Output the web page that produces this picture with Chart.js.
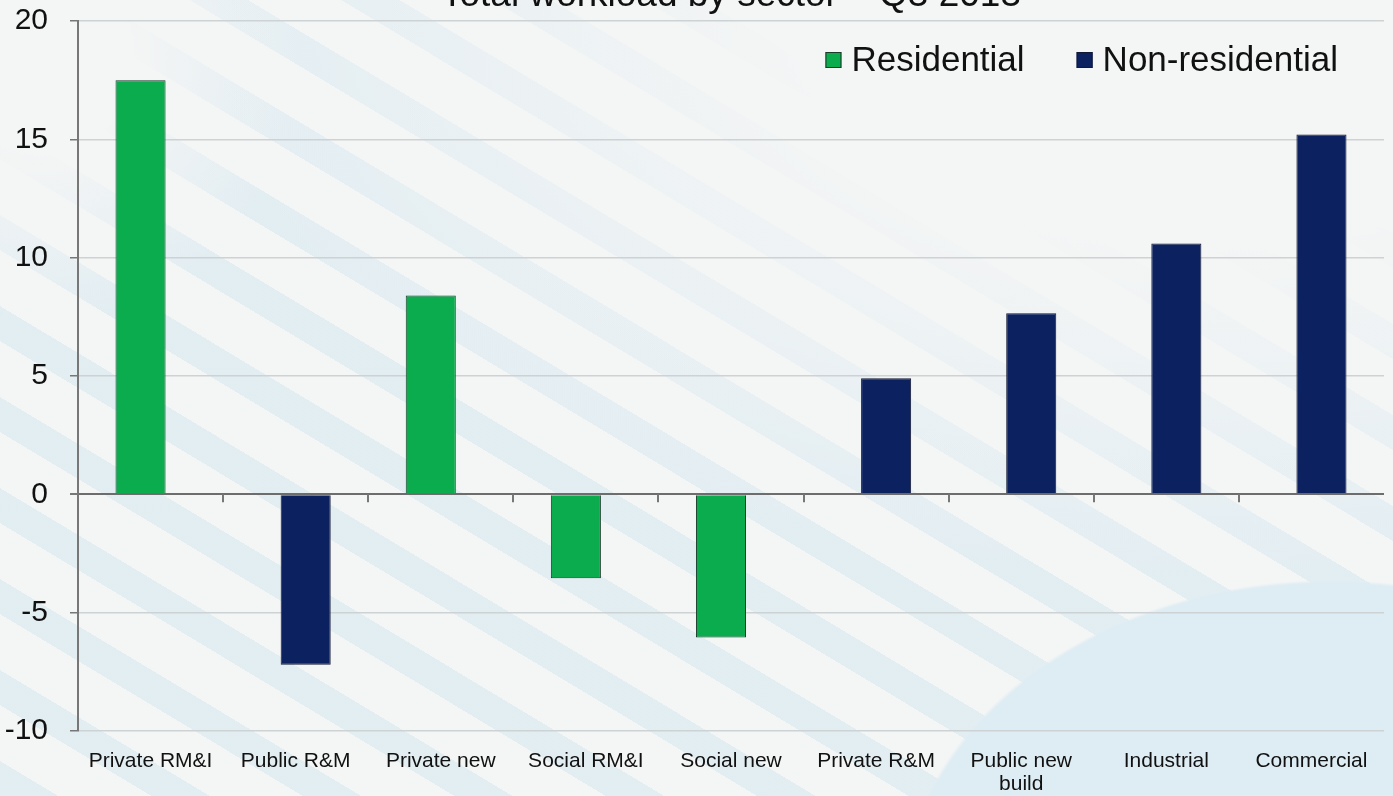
<!DOCTYPE html>
<html>
<head>
<meta charset="utf-8">
<title>Total workload by sector</title>
<script src="https://cdn.jsdelivr.net/npm/chart.js@4.4.1/dist/chart.umd.min.js"></script>
<style>
    html, body {
        margin: 0;
        padding: 0;
        width: 1393px;
        height: 796px;
        overflow: hidden;
    }
    body {
        background-color: #f4f5f5;
        background-image:
            radial-gradient(ellipse 430px 330px at 1330px 910px, #deedf3 0, #deedf3 99%, rgba(222,237,243,0) 100%),
            radial-gradient(ellipse 1000px 560px at 1200px 20px, #f4f5f5 0%, #f4f5f5 40%, rgba(244,245,245,0) 100%),
            radial-gradient(ellipse 260px 260px at 40px 60px, #f4f5f5 0%, #f4f5f5 35%, rgba(244,245,245,0) 100%),
            repeating-linear-gradient(31deg, rgba(188,222,238,0.32) 0px, rgba(188,222,238,0.32) 30px, rgba(244,245,245,0) 30px, rgba(244,245,245,0) 78px);
    }
    #wrap {
        position: absolute;
        left: 0;
        top: 0;
        width: 1393px;
        height: 796px;
    }
</style>
</head>
<body>
<div id="wrap">
    <canvas id="sectorChart" width="1393" height="796"></canvas>
</div>
<script>
// Total workload by sector, % change
const chartTitle = 'Total workload by sector \u2013 Q3 2013';
const categories = ['Private RM&I', 'Public R&M', 'Private new', 'Social RM&I', 'Social new',
    'Private R&M', ['Public new', 'build'], 'Industrial', 'Commercial'];
const residential = [17.5, null, 8.4, -3.55, -6.05, null, null, null, null];
const nonResidential = [null, -7.2, null, null, null, 4.9, 7.65, 10.6, 15.2];
const yTicks = [-10, -5, 0, 5, 10, 15, 20];

const fontFamily = '"Liberation Sans", Arial, sans-serif';

// title sits centred over the plot area, partly above the canvas edge
const titlePlugin = {
    id: 'plotTitle',
    afterDraw(chart) {
        const c = chart.ctx;
        const area = chart.chartArea;
        c.save();
        c.font = '37px ' + fontFamily;
        c.fillStyle = '#111';
        c.textAlign = 'center';
        c.textBaseline = 'alphabetic';
        c.fillText(chartTitle, (area.left + area.right) / 2, 6);
        c.restore();
    }
};

// legend drawn inside the top-right corner of the plot
const innerLegend = {
    id: 'innerLegend',
    afterDraw(chart) {
        const c = chart.ctx;
        const area = chart.chartArea;
        const box = 16, gap = 10, spacing = 52;
        c.save();
        c.font = '35px ' + fontFamily;
        c.textBaseline = 'middle';
        const items = chart.data.datasets.map(ds => ({
            text: ds.label,
            fill: ds.backgroundColor,
            stroke: ds.borderColor,
            w: box + gap + c.measureText(ds.label).width
        }));
        const total = items.reduce((s, it) => s + it.w, 0) + spacing * (items.length - 1);
        let x = area.right - 46 - total;
        const y = area.top + 39;
        items.forEach(it => {
            c.fillStyle = it.fill;
            c.fillRect(x, y - box / 2, box, box);
            c.strokeStyle = it.stroke;
            c.lineWidth = 1;
            c.strokeRect(x + 0.5, y - box / 2 + 0.5, box - 1, box - 1);
            c.fillStyle = '#111';
            c.fillText(it.text, x + box + gap, y + 1);
            x += it.w + spacing;
        });
        c.restore();
    }
};

// small tick marks hanging from the zero line between categories
const zeroTicks = {
    id: 'zeroTicks',
    afterDatasetsDraw(chart) {
        const c = chart.ctx;
        const x = chart.scales.x;
        const y0 = chart.scales.y.getPixelForValue(0);
        const step = (x.right - x.left) / categories.length;
        c.save();
        c.strokeStyle = '#777';
        c.lineWidth = 2;
        c.beginPath();
        for (let i = 1; i < categories.length; i++) {
            const px = Math.round(x.left + step * i);
            c.moveTo(px, y0);
            c.lineTo(px, y0 + 8);
        }
        c.stroke();
        c.restore();
    }
};

const ctx = document.getElementById('sectorChart').getContext('2d');
const sectorChart = new Chart(ctx, {
    type: 'bar',
    data: {
        labels: categories,
        datasets: [{
            label: 'Residential',
            data: residential,
            backgroundColor: '#0aac4e',
            borderColor: '#1a3a2a',
            borderWidth: 1
        }, {
            label: 'Non-residential',
            data: nonResidential,
            backgroundColor: '#0b2160',
            borderColor: '#121833',
            borderWidth: 1
        }]
    },
    options: {
        responsive: false,
        animation: false,
        categoryPercentage: 0.276,
        barPercentage: 2.5,
        layout: {
            padding: { top: 21, right: 9, left: 0, bottom: 0 }
        },
        plugins: {
            title: { display: false },
            tooltip: { enabled: false },
            legend: { display: false }
        },
        scales: {
            x: {
                grid: { display: false },
                border: { display: false },
                afterFit(scale) {
                    scale.height = 65;
                    scale.paddingLeft = 0;
                    scale.paddingRight = 0;
                },
                ticks: {
                    color: '#111',
                    font: { size: 21, family: fontFamily, lineHeight: 1.1 },
                    padding: 11,
                    maxRotation: 0,
                    autoSkip: false
                }
            },
            y: {
                min: -10,
                max: 20,
                afterBuildTicks(scale) {
                    scale.ticks = yTicks.map(v => ({ value: v }));
                },
                afterFit(scale) {
                    scale.width = 78;
                    scale.paddingTop = 0;
                    scale.paddingBottom = 0;
                },
                grid: {
                    color: c => c.tick && c.tick.value === 0 ? '#6d6d6d' : '#cdd2d4',
                    lineWidth: c => c.tick && c.tick.value === 0 ? 2 : 1.5,
                    tickColor: '#777',
                    tickLength: 8
                },
                border: { display: true, color: '#777', width: 2 },
                ticks: {
                    color: '#111',
                    font: { size: 30, family: fontFamily },
                    padding: 22
                }
            }
        }
    },
    plugins: [titlePlugin, innerLegend, zeroTicks]
});
</script>
</body>
</html>
